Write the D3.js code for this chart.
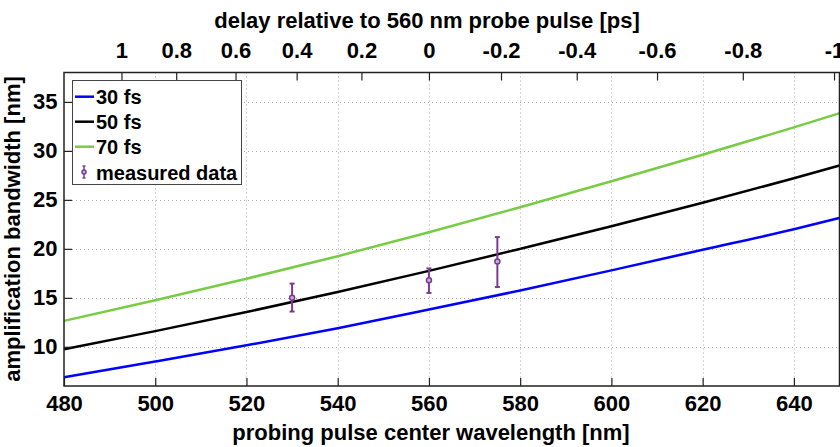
<!DOCTYPE html>
<html>
<head>
<meta charset="utf-8">
<script src="https://cdn.jsdelivr.net/npm/d3@7"></script>
<style>
  body { margin: 0; background: #fff; }
  svg { display: block; font-family: "Liberation Sans", Arial, sans-serif; font-weight: bold; }
</style>
</head>
<body>
<svg width="840" height="447"></svg>
<script>
// --- DATA ---
const wavelengths = [480, 500, 520, 540, 560, 580, 600, 620, 640, 650];
const bw30 = [6.9, 8.5, 10.15, 11.9, 13.8, 15.75, 17.8, 19.9, 22.0, 23.15];
const bw50 = [9.75, 11.6, 13.55, 15.6, 17.75, 20.0, 22.3, 24.7, 27.2, 28.5];
const bw70 = [12.65, 14.75, 16.95, 19.25, 21.7, 24.25, 26.9, 29.6, 32.4, 33.85];

const measWavelength = [530, 560, 575];
const measValue = [15.0, 16.8, 18.7];
const measLow = [13.6, 15.5, 16.1];
const measHigh = [16.45, 18.0, 21.2];

const xTicks = [480, 500, 520, 540, 560, 580, 600, 620, 640];
const yTicks = [10, 15, 20, 25, 30, 35];
const delayTicks = [1, 0.8, 0.6, 0.4, 0.2, 0, -0.2, -0.4, -0.6, -0.8, -1];
// wavelength where each delay tick sits on the top axis
const delayTickWavelengths = [492.6, 504.6, 517.6, 531.0, 545.2, 560, 575.8, 592.4, 610.0, 628.8, 648.8];

const seriesNames = ['30 fs', '50 fs', '70 fs'];
const seriesColors = ['#0000ff', '#000000', '#77cc44'];
const measColor = '#7b3a92';

// --- SETUP ---
const svg = d3.select('svg');
const plotLeft = 64, plotRight = 839.5, plotTop = 72.5, plotBottom = 386;

const x = d3.scaleLinear().domain([480, 650]).range([plotLeft, plotRight]);
const y = d3.scaleLinear().domain([6, 38]).range([plotBottom, plotTop]);
const delayX = d3.scaleLinear().domain(delayTicks).range(delayTickWavelengths.map(x));

// --- GRID ---
const grid = svg.append('g')
    .attr('stroke', '#aaa')
    .attr('stroke-width', 1)
    .attr('stroke-dasharray', '1,3');

grid.selectAll('.vg')
    .data(xTicks.filter(d => d > 480))
    .enter().append('line')
    .attr('x1', d => Math.round(x(d)) + 0.5)
    .attr('x2', d => Math.round(x(d)) + 0.5)
    .attr('y1', plotTop)
    .attr('y2', plotBottom);

grid.selectAll('.hg')
    .data(yTicks)
    .enter().append('line')
    .attr('y1', d => Math.round(y(d)) + 0.5)
    .attr('y2', d => Math.round(y(d)) + 0.5)
    .attr('x1', plotLeft)
    .attr('x2', plotRight);

// --- CURVES ---
const line = d3.line()
    .x(d => x(d[0]))
    .y(d => y(d[1]))
    .curve(d3.curveMonotoneX);

[bw30, bw50, bw70].forEach((vals, i) => {
    svg.append('path')
        .datum(wavelengths.map((w, j) => [w, vals[j]]))
        .attr('d', line)
        .attr('fill', 'none')
        .attr('stroke', seriesColors[i])
        .attr('stroke-width', 2.5);
});

// --- MEASURED DATA ---
const meas = svg.append('g')
    .selectAll('g')
    .data(measWavelength.map((w, i) => ({ w, v: measValue[i], lo: measLow[i], hi: measHigh[i] })))
    .enter().append('g')
    .attr('stroke', measColor)
    .attr('stroke-width', 2);

meas.append('line')
    .attr('x1', d => x(d.w)).attr('x2', d => x(d.w))
    .attr('y1', d => y(d.lo)).attr('y2', d => y(d.hi));
meas.append('line')
    .attr('x1', d => x(d.w) - 2.5).attr('x2', d => x(d.w) + 2.5)
    .attr('y1', d => y(d.lo)).attr('y2', d => y(d.lo));
meas.append('line')
    .attr('x1', d => x(d.w) - 2.5).attr('x2', d => x(d.w) + 2.5)
    .attr('y1', d => y(d.hi)).attr('y2', d => y(d.hi));
meas.append('circle')
    .attr('cx', d => x(d.w))
    .attr('cy', d => y(d.v))
    .attr('r', 2.5)
    .attr('fill', '#c9b0d4')
    .attr('stroke-width', 1.5);

// --- AXES ---
const fontSize = 22;
const legendFont = 20;

const xAxis = svg.append('g')
    .attr('transform', `translate(0,${plotBottom})`)
    .call(d3.axisBottom(x).tickValues(xTicks).tickSizeInner(-8).tickSizeOuter(0).tickPadding(9));

const yAxis = svg.append('g')
    .attr('transform', `translate(${plotLeft},0)`)
    .call(d3.axisLeft(y).tickValues(yTicks).tickSizeInner(-8).tickSizeOuter(0).tickPadding(6.5));

const topAxis = svg.append('g')
    .attr('transform', `translate(0,${plotTop})`)
    .call(d3.axisTop(delayX).tickValues(delayTicks).tickFormat(d => String(d))
        .tickSizeInner(-8).tickSizeOuter(0).tickPadding(14.5));

[xAxis, yAxis, topAxis].forEach(g => {
    g.select('.domain').remove();
    g.selectAll('.tick line').attr('stroke', '#222').attr('stroke-width', 1.2);
    g.selectAll('.tick text')
        .attr('fill', '#000')
        .style('font-family', '"Liberation Sans", Arial, sans-serif')
        .style('font-weight', 'bold')
        .style('font-size', fontSize + 'px');
});

// box
svg.append('rect')
    .attr('x', plotLeft).attr('y', plotTop)
    .attr('width', plotRight - plotLeft).attr('height', plotBottom - plotTop)
    .attr('fill', 'none')
    .attr('stroke', '#222')
    .attr('stroke-width', 1.5);

// --- TITLES ---
svg.append('text')
    .attr('x', 431)
    .attr('y', 440)
    .attr('text-anchor', 'middle')
    .style('font-size', fontSize + 'px')
    .text('probing pulse center wavelength [nm]');

svg.append('text')
    .attr('x', 427)
    .attr('y', 28)
    .attr('text-anchor', 'middle')
    .style('font-size', fontSize + 'px')
    .text('delay relative to 560 nm probe pulse [ps]');

svg.append('text')
    .attr('transform', `translate(19.5,229) rotate(-90)`)
    .attr('text-anchor', 'middle')
    .style('font-size', fontSize + 'px')
    .text('amplification bandwidth [nm]');

// --- LEGEND ---
const legend = svg.append('g');
legend.append('rect')
    .attr('x', 72.5).attr('y', 80.5)
    .attr('width', 169).attr('height', 104)
    .attr('fill', '#fff')
    .attr('stroke', '#444')
    .attr('stroke-width', 1);

const rowY = [96.7, 121.7, 146.7];
seriesNames.forEach((name, i) => {
    legend.append('line')
        .attr('x1', 75).attr('x2', 94)
        .attr('y1', rowY[i]).attr('y2', rowY[i])
        .attr('stroke', seriesColors[i])
        .attr('stroke-width', 2.5);
    legend.append('text')
        .attr('x', 96).attr('y', rowY[i])
        .attr('dy', '0.35em')
        .style('font-size', legendFont + 'px')
        .text(name);
});

const my = 173;
const mIcon = legend.append('g').attr('stroke', measColor).attr('stroke-width', 1.5);
mIcon.append('line').attr('x1', 84).attr('x2', 84).attr('y1', my - 7).attr('y2', my + 5);
mIcon.append('line').attr('x1', 82.5).attr('x2', 85.5).attr('y1', my - 7).attr('y2', my - 7);
mIcon.append('line').attr('x1', 82.5).attr('x2', 85.5).attr('y1', my + 5).attr('y2', my + 5);
mIcon.append('circle').attr('cx', 84).attr('cy', my - 1).attr('r', 2).attr('fill', '#c9b0d4');
legend.append('text')
    .attr('x', 96).attr('y', my)
    .attr('dy', '0.35em')
    .style('font-size', legendFont + 'px')
    .text('measured data');
</script>
</body>
</html>
